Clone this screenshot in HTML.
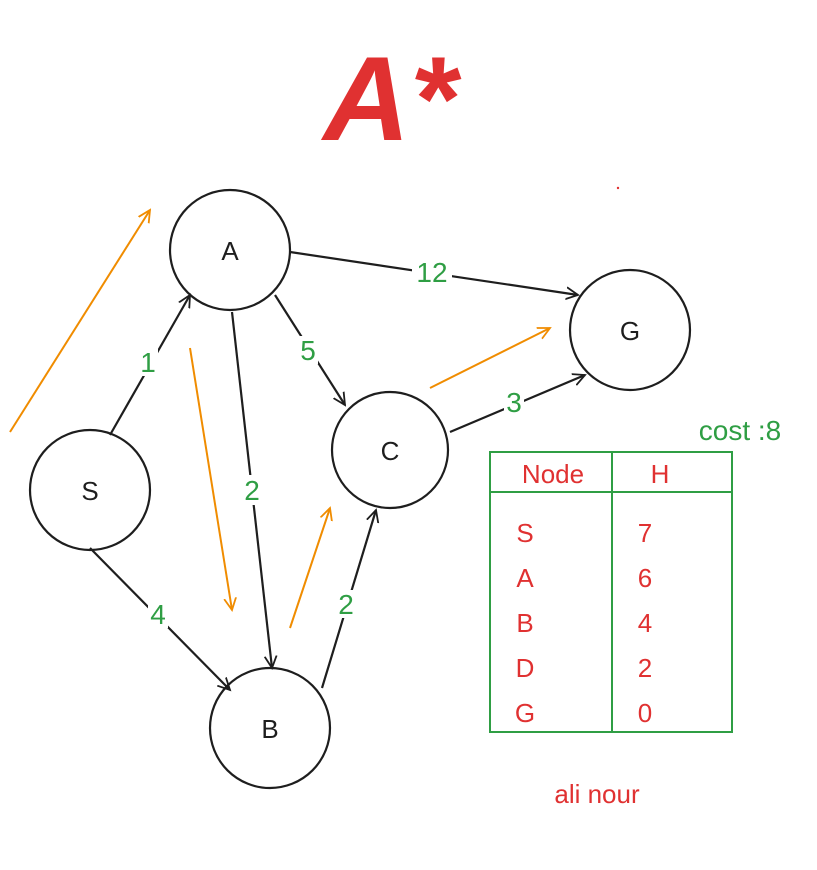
<!DOCTYPE html>
<html><head><meta charset="utf-8"><style>
html,body{margin:0;padding:0;background:#fff;}
svg{display:block;}
text{font-family:"Liberation Sans",sans-serif;}
</style></head><body>
<svg width="817" height="870" viewBox="0 0 817 870" xmlns="http://www.w3.org/2000/svg">
<defs>
<marker id="ab" markerWidth="14" markerHeight="14" refX="12" refY="7" orient="auto" markerUnits="userSpaceOnUse">
<path d="M0,1 L12,7 L0,13" fill="none" stroke="#1e1e1e" stroke-width="1.8"/></marker>
<marker id="ao" markerWidth="14" markerHeight="14" refX="12" refY="7" orient="auto" markerUnits="userSpaceOnUse">
<path d="M0,1 L12,7 L0,13" fill="none" stroke="#f08c00" stroke-width="1.8"/></marker>
</defs>
<rect width="817" height="870" fill="#fff"/>
<text x="390" y="140" font-size="120" font-weight="bold" font-style="italic" fill="#e03131" text-anchor="middle">A*</text>
<circle cx="618" cy="188" r="1.2" fill="#e03131"/>
<g fill="none" stroke="#1e1e1e" stroke-width="2.2">
<circle cx="230" cy="250" r="60"/>
<circle cx="630" cy="330" r="60"/>
<circle cx="390" cy="450" r="58"/>
<circle cx="90" cy="490" r="60"/>
<circle cx="270" cy="728" r="60"/>
<g marker-end="url(#ab)">
<line x1="290" y1="252" x2="578" y2="295"/>
<line x1="275" y1="295" x2="345" y2="405"/>
<line x1="450" y1="432" x2="585" y2="375"/>
<line x1="110" y1="435" x2="190" y2="295"/>
<line x1="232" y1="312" x2="272" y2="668"/>
<line x1="90" y1="548" x2="230" y2="690"/>
<line x1="322" y1="688" x2="376" y2="510"/>
</g></g>
<g fill="none" stroke="#f08c00" stroke-width="2" marker-end="url(#ao)">
<line x1="10" y1="432" x2="150" y2="210"/>
<line x1="190" y1="348" x2="232" y2="610"/>
<line x1="290" y1="628" x2="330" y2="508"/>
<line x1="430" y1="388" x2="550" y2="328"/>
</g>
<g font-size="26" fill="#1e1e1e" text-anchor="middle">
<text x="230" y="260">A</text><text x="630" y="340">G</text><text x="390" y="460">C</text>
<text x="90" y="500">S</text><text x="270" y="738">B</text>
</g>
<g fill="#fff">
<rect x="412" y="258" width="40" height="28"/>
<rect x="298" y="336" width="20" height="28"/>
<rect x="504" y="388" width="20" height="28"/>
<rect x="138" y="348" width="20" height="28"/>
<rect x="240" y="475" width="24" height="30"/>
<rect x="148" y="600" width="20" height="28"/>
<rect x="336" y="590" width="20" height="28"/>
</g>
<g font-size="28" fill="#2f9e44" text-anchor="middle">
<text x="432" y="282">12</text>
<text x="308" y="360">5</text>
<text x="514" y="412">3</text>
<text x="148" y="372">1</text>
<text x="252" y="500">2</text>
<text x="158" y="624">4</text>
<text x="346" y="614">2</text>
<text x="740" y="440">cost :8</text>
</g>
<g fill="none" stroke="#2f9e44" stroke-width="2">
<rect x="490" y="452" width="242" height="280"/>
<line x1="490" y1="492" x2="732" y2="492"/>
<line x1="612" y1="452" x2="612" y2="732"/>
</g>
<g font-size="26" fill="#e03131" text-anchor="middle">
<text x="553" y="483">Node</text><text x="660" y="483">H</text>
<text x="525" y="542">S</text><text x="645" y="542">7</text>
<text x="525" y="587">A</text><text x="645" y="587">6</text>
<text x="525" y="632">B</text><text x="645" y="632">4</text>
<text x="525" y="677">D</text><text x="645" y="677">2</text>
<text x="525" y="722">G</text><text x="645" y="722">0</text>
<text x="597" y="803">ali nour</text>
</g>
</svg>
</body></html>
